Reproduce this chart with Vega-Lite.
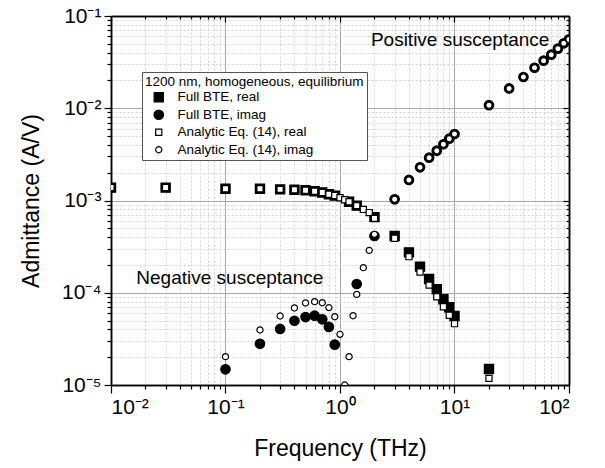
{
  "$schema": "https://vega.github.io/schema/vega-lite/v6.json",
  "width": 458,
  "height": 369,
  "autosize": {"type": "none"},
  "padding": {"left": 111, "top": 16, "right": 36, "bottom": 83},
  "background": "white",
  "config": {
    "view": {"stroke": null},
    "font": "Liberation Sans",
    "axis": {
      "domainColor": "black",
      "domainWidth": 1.5,
      "tickColor": "black",
      "tickWidth": 1.2,
      "labelFont": "Liberation Sans",
      "labelFontSize": 21,
      "labelColor": "black",
      "titleFont": "Liberation Sans",
      "titleFontSize": 23,
      "titleFontWeight": "normal",
      "titleColor": "black"
    },
    "legend": {
      "orient": "none",
      "legendX": 31,
      "legendY": 56,
      "strokeColor": "#555555",
      "fillColor": "white",
      "padding": 3,
      "titleFont": "Liberation Sans",
      "titleFontSize": 13.5,
      "titleFontWeight": "normal",
      "titleColor": "black",
      "titlePadding": 2,
      "titleLimit": 400,
      "labelFont": "Liberation Sans",
      "labelFontSize": 13.5,
      "labelColor": "black",
      "labelLimit": 400,
      "labelOffset": 12,
      "symbolOffset": 7,
      "rowPadding": 2.5,
      "symbolStrokeWidth": 1.2
    }
  },
  "datasets": {
    "pts": [
      {"f": 0.01, "Y": 0.00138, "series": "Full BTE, real"},
      {"f": 0.03, "Y": 0.00138, "series": "Full BTE, real"},
      {"f": 0.1, "Y": 0.00134, "series": "Full BTE, real"},
      {"f": 0.2, "Y": 0.00134, "series": "Full BTE, real"},
      {"f": 0.3, "Y": 0.00132, "series": "Full BTE, real"},
      {"f": 0.4, "Y": 0.00131, "series": "Full BTE, real"},
      {"f": 0.5, "Y": 0.00129, "series": "Full BTE, real"},
      {"f": 0.6, "Y": 0.00126, "series": "Full BTE, real"},
      {"f": 0.7, "Y": 0.00122, "series": "Full BTE, real"},
      {"f": 0.8, "Y": 0.00117, "series": "Full BTE, real"},
      {"f": 0.9, "Y": 0.00113, "series": "Full BTE, real"},
      {"f": 1.2, "Y": 0.00097, "series": "Full BTE, real"},
      {"f": 1.4, "Y": 0.00088, "series": "Full BTE, real"},
      {"f": 2, "Y": 0.00066, "series": "Full BTE, real"},
      {"f": 3, "Y": 0.000412, "series": "Full BTE, real"},
      {"f": 4, "Y": 0.000274, "series": "Full BTE, real"},
      {"f": 5, "Y": 0.000192, "series": "Full BTE, real"},
      {"f": 6, "Y": 0.000141, "series": "Full BTE, real"},
      {"f": 7, "Y": 0.000109, "series": "Full BTE, real"},
      {"f": 8, "Y": 0.000085, "series": "Full BTE, real"},
      {"f": 9, "Y": 0.0000695, "series": "Full BTE, real"},
      {"f": 10, "Y": 0.000056, "series": "Full BTE, real"},
      {"f": 20, "Y": 0.0000149, "series": "Full BTE, real"},
      {"f": 0.1, "Y": 0.0000148, "series": "Full BTE, imag"},
      {"f": 0.2, "Y": 0.000028, "series": "Full BTE, imag"},
      {"f": 0.3, "Y": 0.0000405, "series": "Full BTE, imag"},
      {"f": 0.4, "Y": 0.0000497, "series": "Full BTE, imag"},
      {"f": 0.5, "Y": 0.0000545, "series": "Full BTE, imag"},
      {"f": 0.6, "Y": 0.0000564, "series": "Full BTE, imag"},
      {"f": 0.7, "Y": 0.0000515, "series": "Full BTE, imag"},
      {"f": 0.8, "Y": 0.0000426, "series": "Full BTE, imag"},
      {"f": 0.9, "Y": 0.0000274, "series": "Full BTE, imag"},
      {"f": 1.4, "Y": 0.0001245, "series": "Full BTE, imag"},
      {"f": 2, "Y": 0.000412, "series": "Full BTE, imag"},
      {"f": 3, "Y": 0.00103, "series": "Full BTE, imag"},
      {"f": 4, "Y": 0.00167, "series": "Full BTE, imag"},
      {"f": 5, "Y": 0.00229, "series": "Full BTE, imag"},
      {"f": 6, "Y": 0.00291, "series": "Full BTE, imag"},
      {"f": 7, "Y": 0.00347, "series": "Full BTE, imag"},
      {"f": 8, "Y": 0.00407, "series": "Full BTE, imag"},
      {"f": 9, "Y": 0.00468, "series": "Full BTE, imag"},
      {"f": 10, "Y": 0.00526, "series": "Full BTE, imag"},
      {"f": 20, "Y": 0.0108, "series": "Full BTE, imag"},
      {"f": 30, "Y": 0.0164, "series": "Full BTE, imag"},
      {"f": 40, "Y": 0.0218, "series": "Full BTE, imag"},
      {"f": 50, "Y": 0.0275, "series": "Full BTE, imag"},
      {"f": 60, "Y": 0.0328, "series": "Full BTE, imag"},
      {"f": 70, "Y": 0.0381, "series": "Full BTE, imag"},
      {"f": 80, "Y": 0.0443, "series": "Full BTE, imag"},
      {"f": 90, "Y": 0.0506, "series": "Full BTE, imag"},
      {"f": 100, "Y": 0.0558, "series": "Full BTE, imag"},
      {"f": 0.01, "Y": 0.00138, "series": "Analytic Eq. (14), real"},
      {"f": 0.03, "Y": 0.00138, "series": "Analytic Eq. (14), real"},
      {"f": 0.1, "Y": 0.00134, "series": "Analytic Eq. (14), real"},
      {"f": 0.2, "Y": 0.00134, "series": "Analytic Eq. (14), real"},
      {"f": 0.3, "Y": 0.00132, "series": "Analytic Eq. (14), real"},
      {"f": 0.4, "Y": 0.00131, "series": "Analytic Eq. (14), real"},
      {"f": 0.5, "Y": 0.00129, "series": "Analytic Eq. (14), real"},
      {"f": 0.6, "Y": 0.00126, "series": "Analytic Eq. (14), real"},
      {"f": 0.7, "Y": 0.00122, "series": "Analytic Eq. (14), real"},
      {"f": 0.8, "Y": 0.00117, "series": "Analytic Eq. (14), real"},
      {"f": 0.9, "Y": 0.00113, "series": "Analytic Eq. (14), real"},
      {"f": 1.0, "Y": 0.00107, "series": "Analytic Eq. (14), real"},
      {"f": 1.1, "Y": 0.00102, "series": "Analytic Eq. (14), real"},
      {"f": 1.2, "Y": 0.00097, "series": "Analytic Eq. (14), real"},
      {"f": 1.4, "Y": 0.00088, "series": "Analytic Eq. (14), real"},
      {"f": 1.6, "Y": 0.0008, "series": "Analytic Eq. (14), real"},
      {"f": 1.8, "Y": 0.00074, "series": "Analytic Eq. (14), real"},
      {"f": 2, "Y": 0.00064, "series": "Analytic Eq. (14), real"},
      {"f": 3, "Y": 0.000389, "series": "Analytic Eq. (14), real"},
      {"f": 4, "Y": 0.000246, "series": "Analytic Eq. (14), real"},
      {"f": 5, "Y": 0.000168, "series": "Analytic Eq. (14), real"},
      {"f": 6, "Y": 0.000121, "series": "Analytic Eq. (14), real"},
      {"f": 7, "Y": 0.0000905, "series": "Analytic Eq. (14), real"},
      {"f": 8, "Y": 0.0000706, "series": "Analytic Eq. (14), real"},
      {"f": 9, "Y": 0.0000569, "series": "Analytic Eq. (14), real"},
      {"f": 10, "Y": 0.0000462, "series": "Analytic Eq. (14), real"},
      {"f": 20, "Y": 0.0000118, "series": "Analytic Eq. (14), real"},
      {"f": 0.1, "Y": 0.0000203, "series": "Analytic Eq. (14), imag"},
      {"f": 0.2, "Y": 0.0000395, "series": "Analytic Eq. (14), imag"},
      {"f": 0.3, "Y": 0.000056, "series": "Analytic Eq. (14), imag"},
      {"f": 0.4, "Y": 0.0000684, "series": "Analytic Eq. (14), imag"},
      {"f": 0.5, "Y": 0.0000775, "series": "Analytic Eq. (14), imag"},
      {"f": 0.6, "Y": 0.00008, "series": "Analytic Eq. (14), imag"},
      {"f": 0.7, "Y": 0.000078, "series": "Analytic Eq. (14), imag"},
      {"f": 0.8, "Y": 0.000069, "series": "Analytic Eq. (14), imag"},
      {"f": 0.9, "Y": 0.000055, "series": "Analytic Eq. (14), imag"},
      {"f": 1.0, "Y": 0.0000354, "series": "Analytic Eq. (14), imag"},
      {"f": 1.1, "Y": 0.00001, "series": "Analytic Eq. (14), imag"},
      {"f": 1.2, "Y": 0.0000203, "series": "Analytic Eq. (14), imag"},
      {"f": 1.3, "Y": 0.0000564, "series": "Analytic Eq. (14), imag"},
      {"f": 1.4, "Y": 0.000096, "series": "Analytic Eq. (14), imag"},
      {"f": 1.6, "Y": 0.000187, "series": "Analytic Eq. (14), imag"},
      {"f": 1.8, "Y": 0.000288, "series": "Analytic Eq. (14), imag"},
      {"f": 2, "Y": 0.00043, "series": "Analytic Eq. (14), imag"},
      {"f": 3, "Y": 0.00103, "series": "Analytic Eq. (14), imag"},
      {"f": 4, "Y": 0.00167, "series": "Analytic Eq. (14), imag"},
      {"f": 5, "Y": 0.00229, "series": "Analytic Eq. (14), imag"},
      {"f": 6, "Y": 0.00291, "series": "Analytic Eq. (14), imag"},
      {"f": 7, "Y": 0.00347, "series": "Analytic Eq. (14), imag"},
      {"f": 8, "Y": 0.00407, "series": "Analytic Eq. (14), imag"},
      {"f": 9, "Y": 0.00468, "series": "Analytic Eq. (14), imag"},
      {"f": 10, "Y": 0.00526, "series": "Analytic Eq. (14), imag"},
      {"f": 20, "Y": 0.0108, "series": "Analytic Eq. (14), imag"},
      {"f": 30, "Y": 0.0164, "series": "Analytic Eq. (14), imag"},
      {"f": 40, "Y": 0.0218, "series": "Analytic Eq. (14), imag"},
      {"f": 50, "Y": 0.0275, "series": "Analytic Eq. (14), imag"},
      {"f": 60, "Y": 0.0328, "series": "Analytic Eq. (14), imag"},
      {"f": 70, "Y": 0.0381, "series": "Analytic Eq. (14), imag"},
      {"f": 80, "Y": 0.0443, "series": "Analytic Eq. (14), imag"},
      {"f": 90, "Y": 0.0506, "series": "Analytic Eq. (14), imag"},
      {"f": 100, "Y": 0.0558, "series": "Analytic Eq. (14), imag"}
    ],
    "notes": [
      {"f": 11.2, "Y": 0.055, "label": "Positive susceptance"},
      {"f": 0.109, "Y": 0.000144, "label": "Negative susceptance"}
    ]
  },
  "resolve": {"axis": {"x": "independent", "y": "independent"}},
  "layer": [
    {
      "data": {"name": "pts"},
      "mark": {"type": "point", "opacity": 0},
      "encoding": {
        "x": {"field": "f", "type": "quantitative",
          "scale": {"type": "log", "domain": [0.01, 100]},
          "axis": {"orient": "bottom", "values": [0.02,0.03,0.04,0.05,0.06,0.07,0.08,0.09,0.2,0.3,0.4,0.5,0.6,0.7,0.8,0.9,2,3,4,5,6,7,8,9,20,30,40,50,60,70,80,90],
            "labels": false, "title": null, "tickSize": 4, "grid": true, "gridColor": "#d2d2d2", "gridDash": [2, 2], "gridWidth": 1}},
        "y": {"field": "Y", "type": "quantitative",
          "scale": {"type": "log", "domain": [0.00001, 0.1]},
          "axis": {"orient": "left", "values": [0.00002,0.00003,0.00004,0.00005,0.00006,0.00007,0.00008,0.00009,0.0002,0.0003,0.0004,0.0005,0.0006,0.0007,0.0008,0.0009,0.002,0.003,0.004,0.005,0.006,0.007,0.008,0.009,0.02,0.03,0.04,0.05,0.06,0.07,0.08,0.09],
            "labels": false, "title": null, "tickSize": 4, "grid": true, "gridColor": "#d2d2d2", "gridDash": [2, 2], "gridWidth": 1}}
      }
    },
    {
      "data": {"name": "pts"},
      "mark": {"type": "point", "opacity": 0},
      "encoding": {
        "x": {"field": "f", "type": "quantitative",
          "scale": {"type": "log", "domain": [0.01, 100]},
          "axis": {"orient": "top", "values": [0.02,0.03,0.04,0.05,0.06,0.07,0.08,0.09,0.2,0.3,0.4,0.5,0.6,0.7,0.8,0.9,2,3,4,5,6,7,8,9,20,30,40,50,60,70,80,90],
            "labels": false, "title": null, "tickSize": -3, "grid": false}},
        "y": {"field": "Y", "type": "quantitative",
          "scale": {"type": "log", "domain": [0.00001, 0.1]},
          "axis": {"orient": "right", "values": [0.00002,0.00003,0.00004,0.00005,0.00006,0.00007,0.00008,0.00009,0.0002,0.0003,0.0004,0.0005,0.0006,0.0007,0.0008,0.0009,0.002,0.003,0.004,0.005,0.006,0.007,0.008,0.009,0.02,0.03,0.04,0.05,0.06,0.07,0.08,0.09],
            "labels": false, "title": null, "tickSize": -3, "grid": false}}
      }
    },
    {
      "data": {"name": "pts"},
      "mark": {"type": "point", "opacity": 0},
      "encoding": {
        "x": {"field": "f", "type": "quantitative",
          "scale": {"type": "log", "domain": [0.01, 100]},
          "axis": {"orient": "top", "values": [0.01, 0.1, 1, 10, 100], "labels": false, "title": null, "tickSize": -6, "grid": false}},
        "y": {"field": "Y", "type": "quantitative",
          "scale": {"type": "log", "domain": [0.00001, 0.1]},
          "axis": {"orient": "right", "values": [0.00001, 0.0001, 0.001, 0.01, 0.1], "labels": false, "title": null, "tickSize": -6, "grid": false}}
      }
    },
    {
      "data": {"name": "pts"},
      "mark": {"type": "point", "filled": true, "strokeWidth": 1.2, "opacity": 1, "clip": true},
      "encoding": {
        "x": {"field": "f", "type": "quantitative",
          "scale": {"type": "log", "domain": [0.01, 100]},
          "axis": {"orient": "bottom", "values": [0.01, 0.1, 1, 10, 100], "title": "Frequency (THz)", "tickSize": 8, "labelPadding": 3, "titlePadding": 20,
            "grid": true, "gridColor": "#a8a8a8", "gridWidth": 1,
            "labelExpr": "'10' + (datum.value < 1 ? '⁻' : '') + ['⁰','¹','²','³','⁴','⁵'][abs(round(log(datum.value)/LN10))]"}},
        "y": {"field": "Y", "type": "quantitative",
          "scale": {"type": "log", "domain": [0.00001, 0.1]},
          "axis": {"orient": "left", "values": [0.00001, 0.0001, 0.001, 0.01, 0.1], "title": "Admittance (A/V)", "tickSize": 7, "labelPadding": 3, "titlePadding": 18,
            "grid": true, "gridColor": "#a8a8a8", "gridWidth": 1,
            "labelExpr": "'10' + (datum.value < 1 ? '⁻' : '') + ['⁰','¹','²','³','⁴','⁵'][abs(round(log(datum.value)/LN10))]"}},
        "shape": {"field": "series", "type": "nominal",
          "scale": {"domain": ["Full BTE, real", "Full BTE, imag", "Analytic Eq. (14), real", "Analytic Eq. (14), imag"], "range": ["square", "circle", "square", "circle"]},
          "legend": {"title": "1200 nm, homogeneous, equilibrium"}},
        "fill": {"field": "series", "type": "nominal",
          "scale": {"domain": ["Full BTE, real", "Full BTE, imag", "Analytic Eq. (14), real", "Analytic Eq. (14), imag"], "range": ["black", "black", "white", "white"]},
          "legend": {"title": "1200 nm, homogeneous, equilibrium"}},
        "stroke": {"field": "series", "type": "nominal",
          "scale": {"domain": ["Full BTE, real", "Full BTE, imag", "Analytic Eq. (14), real", "Analytic Eq. (14), imag"], "range": ["black", "black", "black", "black"]},
          "legend": {"title": "1200 nm, homogeneous, equilibrium"}},
        "size": {"field": "series", "type": "nominal",
          "scale": {"type": "ordinal", "domain": ["Full BTE, real", "Full BTE, imag", "Analytic Eq. (14), real", "Analytic Eq. (14), imag"], "range": [85, 90, 38, 38]},
          "legend": {"title": "1200 nm, homogeneous, equilibrium"}}
      }
    },
    {
      "data": {"name": "notes"},
      "mark": {"type": "text", "font": "Liberation Sans", "fontSize": 19, "color": "black", "align": "center", "baseline": "middle"},
      "encoding": {
        "x": {"field": "f", "type": "quantitative", "scale": {"type": "log", "domain": [0.01, 100]}, "axis": null},
        "y": {"field": "Y", "type": "quantitative", "scale": {"type": "log", "domain": [0.00001, 0.1]}, "axis": null},
        "text": {"field": "label"}
      }
    }
  ]
}
